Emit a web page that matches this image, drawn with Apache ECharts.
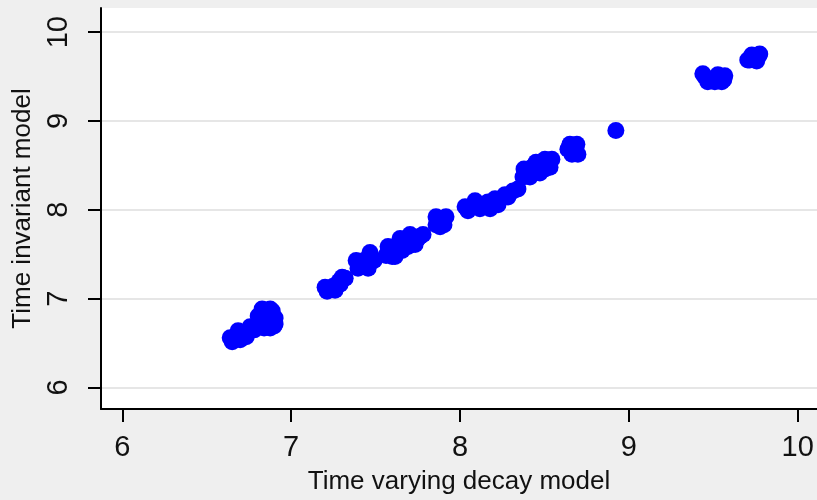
<!DOCTYPE html>
<html>
<head>
<meta charset="utf-8">
<script src="https://cdn.jsdelivr.net/npm/echarts@6/dist/echarts.min.js"></script>
<style>
  html, body { margin: 0; padding: 0; background: #efefef; }
  #chart { width: 817px; height: 500px; }
</style>
</head>
<body>
<div id="chart"></div>
<script>
// x: time varying decay model, y: time invariant model
const decayX = [
  6.639, 6.675, 6.710, 6.746, 6.781, 6.805, 6.846, 6.888, 6.905, 6.899, 6.840, 6.852, 6.817,
  6.651, 6.698, 6.734, 6.686, 6.757, 6.828, 6.864, 6.876, 6.905, 6.828, 6.876,
  7.213, 7.249, 7.284, 7.302, 7.201, 7.260, 7.290, 7.320,
  7.396, 7.432, 7.467, 7.385, 7.456, 7.491,
  7.568, 7.598, 7.633, 7.675, 7.716, 7.751, 7.781, 7.615, 7.657,
  7.574, 7.645, 7.704, 7.692, 7.734, 7.598, 7.562, 7.763,
  7.858, 7.893, 7.917, 7.882, 7.858, 7.905,
  8.030, 8.071, 8.118, 8.166, 8.207, 8.118, 8.047, 8.089, 8.178, 8.225,
  8.266, 8.314, 8.343, 8.284,
  8.385, 8.426, 8.473, 8.521, 8.544, 8.444, 8.503,
  8.379, 8.414, 8.473, 8.533, 8.503, 8.450, 8.373,
  8.651, 8.680, 8.663, 8.692, 8.639, 8.698,
  8.923,
  9.450, 9.491, 9.538, 9.568, 9.467, 9.438, 9.509, 9.550, 9.527, 9.562,
  9.716, 9.751, 9.775, 9.728, 9.704, 9.769, 9.728, 9.757
]
const invariantY = [
  6.559, 6.581, 6.603, 6.626, 6.648, 6.804, 6.860, 6.860, 6.782, 6.693, 6.670, 6.760, 6.715,
  6.514, 6.536, 6.570, 6.637, 6.682, 6.782, 6.827, 6.670, 6.715, 6.883, 6.883,
  7.084, 7.140, 7.196, 7.240, 7.128, 7.095, 7.162, 7.229,
  7.341, 7.430, 7.520, 7.430, 7.341, 7.430,
  7.497, 7.564, 7.598, 7.631, 7.654, 7.676, 7.721, 7.475, 7.542,
  7.587, 7.676, 7.721, 7.587, 7.609, 7.475, 7.486, 7.698,
  7.832, 7.877, 7.922, 7.810, 7.922, 7.832,
  8.034, 8.045, 8.056, 8.089, 8.123, 8.011, 7.989, 8.101, 8.011, 8.056,
  8.168, 8.212, 8.235, 8.145,
  8.402, 8.480, 8.514, 8.547, 8.570, 8.436, 8.458,
  8.458, 8.369, 8.413, 8.480, 8.570, 8.536, 8.369,
  8.737, 8.682, 8.626, 8.737, 8.682, 8.626,
  8.894,
  9.497, 9.464, 9.486, 9.508, 9.441, 9.531, 9.441, 9.441, 9.520, 9.464,
  9.687, 9.732, 9.754, 9.709, 9.687, 9.732, 9.743, 9.676
]
const xTicks = [6, 7, 8, 9, 10]
const yTicks = [6, 7, 8, 9, 10]

const font = 'Liberation Sans, Arial, sans-serif'
const chart = echarts.init(document.getElementById('chart'))

chart.setOption({
  backgroundColor: '#efefef',
  animation: false,
  grid: {
    left: 101, right: 0, top: 8, bottom: 89,
    show: true, backgroundColor: '#ffffff', borderWidth: 0,
  },
  xAxis: {
    type: 'value',
    min: 5.874,
    max: 10.114,
    name: 'Time varying decay model',
    nameLocation: 'middle',
    nameGap: 60,
    nameTextStyle: { fontFamily: font, fontSize: 26, color: '#111' },
    axisLine: { show: true, lineStyle: { color: '#000', width: 2 } },
    axisTick: { show: true, length: 13, lineStyle: { color: '#000', width: 2 }, customValues: xTicks },
    axisLabel: { fontFamily: font, fontSize: 29, color: '#111', margin: 24, customValues: xTicks },
    splitLine: { show: false },
  },
  yAxis: {
    type: 'value',
    min: 5.757,
    max: 10.272,
    name: 'Time invariant model',
    nameLocation: 'middle',
    nameGap: 62,
    nameRotate: 90,
    nameTextStyle: { fontFamily: font, fontSize: 26, color: '#111' },
    axisLine: { show: true, lineStyle: { color: '#000', width: 2 } },
    axisTick: { show: true, length: 13, lineStyle: { color: '#000', width: 2 }, customValues: yTicks },
    axisLabel: { fontFamily: font, fontSize: 29, color: '#111', margin: 28, rotate: 90, customValues: yTicks },
    splitLine: { show: true, lineStyle: { color: '#e6e6e6', width: 2 } },
  },
  series: [
    {
      type: 'scatter',
      symbol: 'circle',
      symbolSize: 17,
      itemStyle: { color: '#0000ff', opacity: 1 },
      data: decayX.map((x, i) => [x, invariantY[i]]),
    },
  ],
})
</script>
</body>
</html>
